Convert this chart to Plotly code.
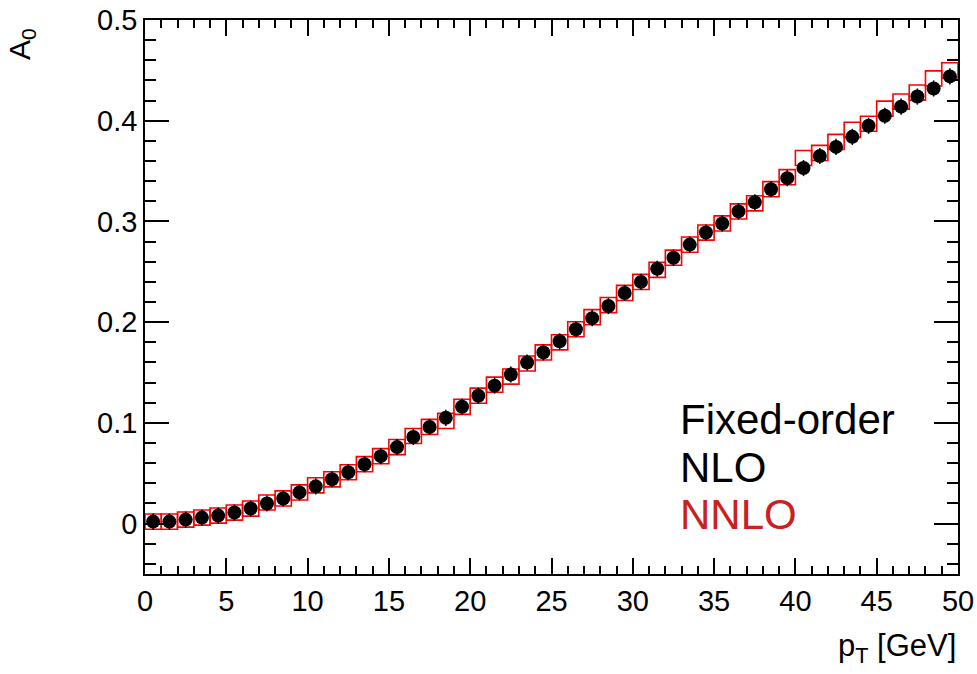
import plotly.graph_objects as go

# bin centres of pT [GeV]
pt = [i + 0.5 for i in range(50)]

# Fixed-order NLO A0 values (black markers)
nlo = [0.002, 0.002, 0.004, 0.006, 0.008, 0.011, 0.015, 0.020, 0.025, 0.031,
       0.037, 0.044, 0.051, 0.059, 0.067, 0.076, 0.086, 0.096, 0.105, 0.116,
       0.127, 0.137, 0.148, 0.160, 0.170, 0.181, 0.193, 0.204, 0.216, 0.229,
       0.240, 0.253, 0.264, 0.277, 0.289, 0.298, 0.310, 0.319, 0.332, 0.343,
       0.353, 0.365, 0.374, 0.384, 0.395, 0.405, 0.414, 0.424, 0.432, 0.444]
nlo_err = [0.008] * 50

# NNLO A0 values (red boxes)
nnlo = [0.002, 0.002, 0.004, 0.006, 0.008, 0.011, 0.015, 0.021, 0.025, 0.031,
        0.038, 0.044, 0.051, 0.059, 0.067, 0.076, 0.087, 0.096, 0.102, 0.116,
        0.127, 0.138, 0.146, 0.159, 0.170, 0.180, 0.193, 0.205, 0.217, 0.229,
        0.240, 0.252, 0.264, 0.277, 0.289, 0.298, 0.310, 0.318, 0.332, 0.344,
        0.363, 0.368, 0.379, 0.391, 0.397, 0.412, 0.419, 0.428, 0.442, 0.450]
nnlo_band = [0.015] * 50

x_ticks = [0, 5, 10, 15, 20, 25, 30, 35, 40, 45, 50]
y_ticks = [0, 0.1, 0.2, 0.3, 0.4, 0.5]

FONT = "Liberation Sans, Arial, sans-serif"

fig = go.Figure()

fig.add_trace(go.Bar(
    x=pt,
    y=nnlo_band,
    base=[v - h / 2 for v, h in zip(nnlo, nnlo_band)],
    width=1,
    marker=dict(color="rgba(0,0,0,0)", line=dict(color="#ff0000", width=1.6)),
    showlegend=False,
    hoverinfo="skip",
))

fig.add_trace(go.Scatter(
    x=pt,
    y=nlo,
    mode="markers",
    marker=dict(symbol="circle", size=14, color="black"),
    error_y=dict(type="data", array=nlo_err, color="black", thickness=1.5, width=0),
    showlegend=False,
))

L, R, T, B = 145, 19, 20, 100
W, H = 977, 674
pw = W - L - R
ph = H - T - B

def px_x(x):
    return (x - L) / pw

def px_y(y):
    return (H - B - y) / ph

axis_common = dict(
    showgrid=False,
    zeroline=False,
    showline=True,
    linecolor="black",
    linewidth=1.5,
    mirror="allticks",
    ticks="inside",
    tickcolor="black",
    tickwidth=1.5,
    automargin=False,
    tickfont=dict(family=FONT, size=29, color="black"),
)

fig.update_layout(
    width=W,
    height=H,
    margin=dict(l=L, r=R, t=T, b=B, pad=0, autoexpand=False),
    paper_bgcolor="white",
    plot_bgcolor="white",
    showlegend=False,
    xaxis=dict(
        range=[0, 50],
        tickvals=x_ticks,
        ticktext=[str(v) for v in x_ticks],
        ticklen=16,
        minor=dict(dtick=1, ticklen=8, ticks="inside", tickcolor="black", tickwidth=1.5, showgrid=False),
        **axis_common,
    ),
    yaxis=dict(
        range=[-0.05, 0.5],
        tickvals=y_ticks,
        ticktext=["0", "0.1", "0.2", "0.3", "0.4", "0.5"],
        ticklen=24,
        minor=dict(dtick=0.02, tick0=0, ticklen=11, ticks="inside", tickcolor="black", tickwidth=1.5, showgrid=False),
        **axis_common,
    ),
)

annos = [
    dict(text="A<sub>0</sub>", x=px_x(21), y=px_y(26), textangle=-90,
         xanchor="center", yanchor="top", font=dict(size=30, color="black")),
    dict(text="p<sub>T</sub> [GeV]", x=px_x(958), y=px_y(648),
         xanchor="right", yanchor="middle", font=dict(size=31, color="black")),
    dict(text="Fixed-order", x=px_x(678), y=px_y(419),
         xanchor="left", yanchor="middle", font=dict(size=42, color="black")),
    dict(text="NLO", x=px_x(678), y=px_y(467),
         xanchor="left", yanchor="middle", font=dict(size=42, color="black")),
    dict(text="NNLO", x=px_x(678), y=px_y(514),
         xanchor="left", yanchor="middle", font=dict(size=42, color="#cc2020")),
]
for a in annos:
    a.update(xref="paper", yref="paper", showarrow=False)
    a["font"]["family"] = FONT
    fig.add_annotation(**a)

fig.write_html("out.html")
